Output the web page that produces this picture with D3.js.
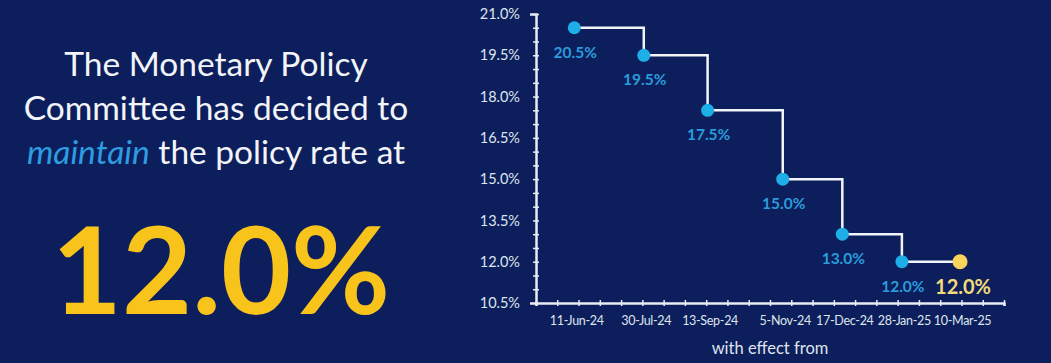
<!DOCTYPE html>
<html>
<head>
<meta charset="utf-8">
<script src="https://cdn.jsdelivr.net/npm/d3@7"></script>
<style>
  html, body { margin: 0; padding: 0; background: #0c1f5c; }
  svg { display: block; font-family: Lato, "Open Sans", sans-serif; }
</style>
</head>
<body>
<svg></svg>
<script>
// policy rate decisions
const dates = ['11-Jun-24', '30-Jul-24', '13-Sep-24', '5-Nov-24', '17-Dec-24', '28-Jan-25', '10-Mar-25'];
const rates = [20.5, 19.5, 17.5, 15.0, 13.0, 12.0, 12.0];
const yTicks = [10.5, 12.0, 13.5, 15.0, 16.5, 18.0, 19.5, 21.0];
const headline = ['The Monetary Policy', 'Committee has decided to', 'the policy rate at'];
const currentRate = '12.0%';

let width = 1051;
let height = 363;

let parseDate = d3.timeParse('%d-%b-%y');
let values = dates.map((d, i) => ({ label: d, date: parseDate(d), rate: rates[i] }));

let svg = d3.select('svg')
            .attr('width', width)
            .attr('height', height);

svg.append('rect')
   .attr('width', width)
   .attr('height', height)
   .attr('fill', '#0c1f5c');

// left text block
let txt = svg.append('g').attr('fill', '#f2f4f8').attr('font-size', 33.5).attr('text-anchor', 'middle');
txt.append('text').attr('x', 216).attr('y', 76).text(headline[0]);
txt.append('text').attr('x', 216).attr('y', 120).text(headline[1]);
let l3 = txt.append('text').attr('x', 216).attr('y', 164);
l3.append('tspan').attr('fill', '#2e9de0').attr('font-style', 'italic').text('maintain');
l3.append('tspan').text(' ' + headline[2]);

svg.append('text')
   .attr('x', 221)
   .attr('y', 314)
   .attr('text-anchor', 'middle')
   .attr('font-size', 121)
   .attr('font-weight', 'bold')
   .attr('fill', '#f8c31a')
   .text(currentRate);

// scales
let xMin = d3.timeDay.offset(values[0].date, -27);
let xMax = d3.timeDay.offset(xMin, 330);

let xScale = d3.scaleTime()
               .domain([xMin, xMax])
               .range([536, 1004]);

let yScale = d3.scaleLinear()
               .domain([10.5, 21.0])
               .range([303, 14]);

let axisColor = '#e8ecf4';

// y axis
let yAxis = d3.axisLeft(yScale)
              .tickValues(d3.range(10.5, 21.01, 0.5))
              .tickSize(6)
              .tickFormat(d => yTicks.some(t => Math.abs(t - d) < 1e-6) ? d.toFixed(1) + '%' : '');

let gy = svg.append('g')
            .attr('transform', 'translate(536,0)')
            .call(yAxis);
gy.select('.domain').attr('stroke', axisColor).attr('stroke-width', 2.5);
gy.selectAll('.tick line').attr('stroke', axisColor).attr('stroke-width', 1.5).attr('x1', 3).attr('x2', -3);
gy.selectAll('.tick text').attr('fill', '#dfe4ee').attr('font-size', 14.5).attr('x', -16)
  .attr('font-family', 'Lato, sans-serif');

// x axis
let xAxis = d3.axisBottom(xScale)
              .tickValues(d3.timeDay.range(xMin, d3.timeDay.offset(xMax, 1), 15))
              .tickSize(3)
              .tickFormat('');

let gx = svg.append('g')
            .attr('transform', 'translate(0,303)')
            .call(xAxis);
gx.select('.domain').attr('stroke', axisColor).attr('stroke-width', 2.5);
gx.selectAll('.tick line').attr('stroke', axisColor).attr('stroke-width', 1.5).attr('y1', -3).attr('y2', 3);

let xLabels = d3.axisBottom(xScale)
                .tickValues(values.map(d => d.date))
                .tickSize(0)
                .tickPadding(13)
                .tickFormat((d, i) => values[i].label);
let gxl = svg.append('g')
             .attr('transform', 'translate(2,303)')
             .call(xLabels);
gxl.select('.domain').remove();
gxl.selectAll('.tick text').attr('fill', '#dfe4ee').attr('font-size', 12.5)
   .attr('letter-spacing', -0.3).attr('font-family', 'Lato, sans-serif');

svg.append('text')
   .attr('x', 770)
   .attr('y', 354)
   .attr('text-anchor', 'middle')
   .attr('font-size', 16.5)
   .attr('fill', '#dfe4ee')
   .text('with effect from');

// step line
let line = d3.line()
             .x(d => xScale(d.date))
             .y(d => yScale(d.rate))
             .curve(d3.curveStepAfter);

svg.append('path')
   .datum(values)
   .attr('d', line)
   .attr('fill', 'none')
   .attr('stroke', '#f2f4fa')
   .attr('stroke-width', 2.5);

let last = values.length - 1;

svg.selectAll('circle.pt')
   .data(values)
   .enter()
   .append('circle')
   .attr('class', 'pt')
   .attr('cx', d => xScale(d.date))
   .attr('cy', d => yScale(d.rate))
   .attr('r', (d, i) => i === last ? 7.5 : 6.5)
   .attr('fill', (d, i) => i === last ? '#f9d45c' : '#1eaee8');

svg.selectAll('text.lbl')
   .data(values)
   .enter()
   .append('text')
   .attr('class', 'lbl')
   .attr('x', (d, i) => xScale(d.date) + (i === last ? 3 : 1))
   .attr('y', (d, i) => yScale(d.rate) + (i === last ? 32 : 30))
   .attr('text-anchor', 'middle')
   .attr('font-weight', 'bold')
   .attr('font-size', (d, i) => i === last ? 20 : 15.5)
   .attr('fill', (d, i) => i === last ? '#f2da78' : '#2b9cdb')
   .text(d => d.rate.toFixed(1) + '%');
</script>
</body>
</html>
